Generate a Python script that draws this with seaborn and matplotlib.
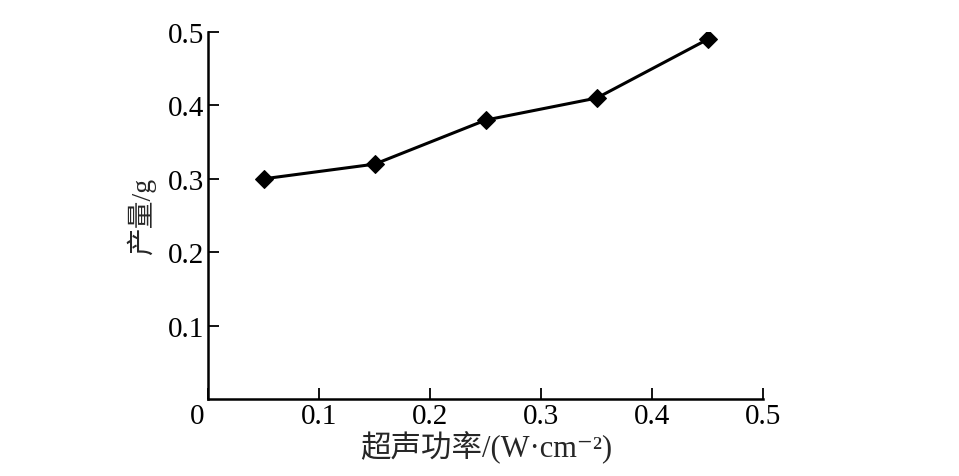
import numpy as np
import pandas as pd
import seaborn as sns
import matplotlib.pyplot as plt
import matplotlib.transforms as mtransforms

# data
power = [0.05, 0.15, 0.25, 0.35, 0.45]
yield_g = [0.30, 0.32, 0.38, 0.41, 0.49]
x_ticks = [0, 0.1, 0.2, 0.3, 0.4, 0.5]
x_labels = ["0", "0.1", "0.2", "0.3", "0.4", "0.5"]
y_ticks = [0.1, 0.2, 0.3, 0.4, 0.5]
y_labels = ["0.1", "0.2", "0.3", "0.4", "0.5"]

df = pd.DataFrame({"power": power, "yield": yield_g})

sns.set_theme(style="ticks")
fonts = ["Liberation Serif", "Noto Sans CJK SC", "DejaVu Sans"]
plt.rcParams["font.family"] = fonts

fig = plt.figure(figsize=(9.59, 4.77), dpi=100)
ax = fig.add_axes([0.217, 0.161, 0.579, 0.770])

sns.lineplot(data=df, x="power", y="yield", ax=ax, color="black",
             linewidth=2.2, marker="D", markersize=9.5,
             markerfacecolor="black", markeredgecolor="black")

ax.set_xlim(0, 0.5)
ax.set_ylim(0, 0.5)
ax.set_xticks(x_ticks)
ax.set_xticklabels(x_labels)
ax.set_yticks(y_ticks)
ax.set_yticklabels(y_labels)

sns.despine(ax=ax)
for s in ["left", "bottom"]:
    ax.spines[s].set_linewidth(1.8)
    ax.spines[s].set_color("black")

ax.tick_params(direction="in", length=8, width=1.3, colors="black",
               labelsize=21, pad=3)

# shift the shared "0" label to the left of the corner
offset = mtransforms.ScaledTranslation(-11 / 100, 0, fig.dpi_scale_trans)
lab0 = ax.get_xticklabels()[0]
lab0.set_transform(lab0.get_transform() + offset)

ax.set_xlabel("超声功率/(W·cm⁻²)", fontsize=22, family=fonts, labelpad=1)
ax.set_ylabel("产量/g", fontsize=20, family=fonts, labelpad=8)

fig.savefig("out.png", dpi=100)
